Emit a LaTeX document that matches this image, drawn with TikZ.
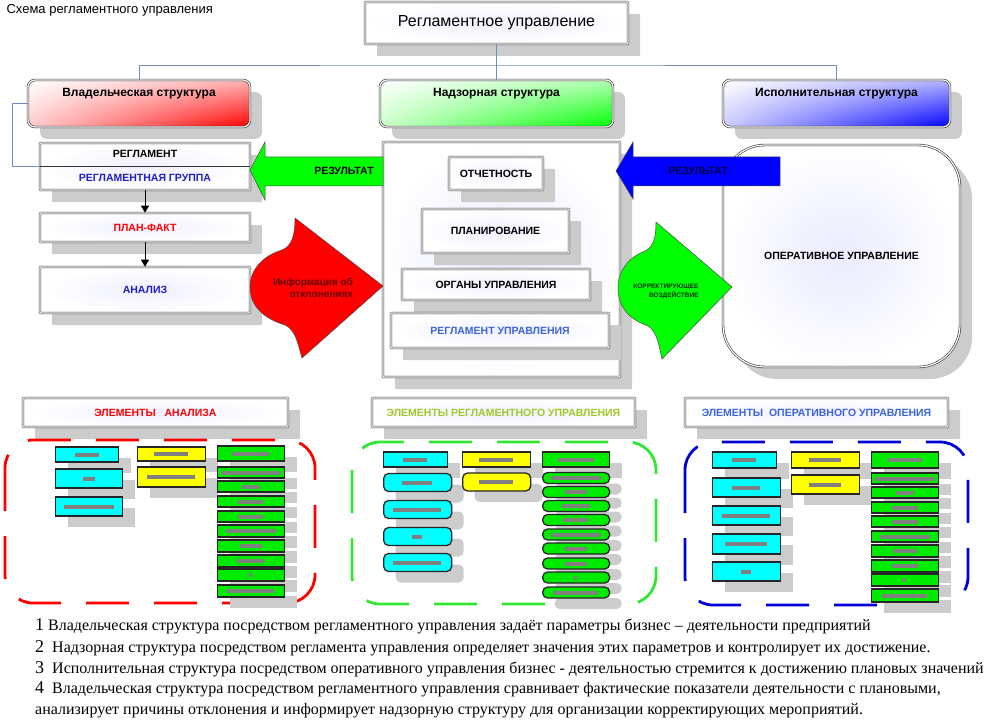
\documentclass[tikz,border=0pt]{standalone}
\usepackage{fontspec}
\setmainfont{Liberation Sans}
\newfontfamily\notefont{Liberation Serif}
\usetikzlibrary{shadows,shadings,patterns,arrows.meta}
\definecolor{linkblue}{RGB}{110,140,190}
\definecolor{txtblue}{RGB}{30,30,200}
\definecolor{lightblue}{RGB}{60,100,220}
\definecolor{olivegreen}{RGB}{160,200,40}
\definecolor{deepred}{RGB}{100,0,0}
\definecolor{elcyan}{RGB}{0,255,255}
\definecolor{elyellow}{RGB}{255,255,0}
\definecolor{elgreen}{RGB}{0,235,0}
\definecolor{zonegreen}{RGB}{50,230,50}

\begin{document}
\begin{tikzpicture}[x=1pt,y=-1pt]
        \tikzset{shdw/.style={general shadow={fill=black!20,shadow xshift=12pt,shadow yshift=-12pt}},
            frame/.style={draw=black!80,double=white,double distance=1.2pt,line width=.6pt},
            box/.style={frame,shdw,rounded corners=.8pt,inner color=blue!6,outer color=white,inner sep=0pt,
                font=\bfseries\fontsize{10.5}{12}\selectfont},
            head/.style={frame,shdw,rounded corners=7pt,minimum width=#1,minimum height=47pt,
                inner sep=0pt,text height=9pt,text depth=22pt,font=\bfseries\fontsize{12}{14}\selectfont},
            link/.style={draw=linkblue,line width=.7pt},
            down/.style={-{Triangle[length=7pt,width=8pt]},line width=1pt},
            elem/.style={draw=black!85,line width=1.3pt,inner sep=0pt,
                general shadow={fill=black!20,shadow xshift=12pt,shadow yshift=-11pt}},
            pill/.style={elem,rounded corners=5pt},
            hatch/.style={fill=black!50,minimum height=4pt,inner sep=0pt},
            zone/.style={line width=2.8pt,rounded corners=28pt,dash pattern=on 43pt off 25pt},
            lbl/.style={font=\bfseries\fontsize{10.5}{12}\selectfont}}
        \useasboundingbox (0,0) rectangle (987,722);

        % top level
        \node[anchor=west,font=\fontsize{13}{15}\selectfont] (title) at (3,10) {Схема регламентного управления};
        \node[box,minimum width=263pt,minimum height=42pt,font=\fontsize{16}{18}\selectfont] (main) at (496.5,23) {Регламентное управление};
        \node[head=222pt,upper left=white,upper right=red!30,lower left=red!20,lower right=red] (owner) at (139,103.5) {Владельческая структура};
        \node[head=233pt,upper left=white,upper right=green!30,lower left=green!20,lower right=green] (superv) at (496.5,103.5) {Надзорная структура};
        \node[head=227pt,upper left=white,upper right=blue!30,lower left=blue!20,lower right=blue] (exec) at (836.5,103.5) {Исполнительная структура};
        \coordinate (bus) at (496.5,65);
        \draw[link] (main.south) -- (superv.north);
        \draw[link] (owner.north) |- (bus) -| (exec.north);

        % owner column
        \node[box,minimum width=210pt,minimum height=47pt] (reg) at (145,166.5) {};
        \draw[black!80] (reg.west) -- (reg.east);
        \node[lbl] (regname) at (145,154) {РЕГЛАМЕНТ};
        \node[lbl,text=txtblue] (reggroup) at (145,178) {РЕГЛАМЕНТНАЯ ГРУППА};
        \draw[link] (owner.west) -- ++(-15,0) |- (reg.west);
        \node[box,minimum width=210pt,minimum height=29pt,text=red] (plan) at (145,227.5) {ПЛАН-ФАКТ};
        \node[box,minimum width=210pt,minimum height=46pt,text=txtblue] (anal) at (145,290) {АНАЛИЗ};
        \draw[down] (reg.south) -- (plan.north);
        \draw[down] (plan.south) -- (anal.north);

        % supervisory block
        \node[box,inner color=blue!9,minimum width=237pt,minimum height=235pt] (superbox) at (501.5,259.5) {};
        \node[box,minimum width=94pt,minimum height=33pt] (report) at (496,173.5) {ОТЧЕТНОСТЬ};
        \node[box,minimum width=147pt,minimum height=44pt] (planning) at (495.5,231) {ПЛАНИРОВАНИЕ};
        \node[box,minimum width=188pt,minimum height=31pt] (organs) at (496,284.5) {ОРГАНЫ УПРАВЛЕНИЯ};
        \node[box,minimum width=218pt,minimum height=35pt,text=lightblue] (regctl) at (500,330.5) {РЕГЛАМЕНТ УПРАВЛЕНИЯ};

        % arrows
        \filldraw[fill=green,draw=black!70,line width=.5pt] (250,170) -- (265,142) -- (265,157) -- (383,157)
            -- (383,186) -- (265,186) -- (265,200) -- cycle;
        \node[lbl] (res1) at (344,171) {РЕЗУЛЬТАТ};
        \filldraw[fill=red,draw=black!70,line width=.5pt] (295,218) -- (383,286) -- (302,358)
            .. controls (298,345) and (296,330) .. (285,325) .. controls (262,318) and (250,305) .. (250,287)
            .. controls (250,268) and (265,255) .. (282,250) .. controls (292,246) and (295,235) .. (295,218) -- cycle;
        \node[font=\bfseries\fontsize{10}{12}\selectfont,text=deepred,align=right] (info) at (313,288) {Информация об\\отклонениях};
        \node[frame,shdw,rounded corners=42pt,inner color=blue!8,outer color=white,minimum width=237pt,
            minimum height=222pt,lbl] (oper) at (841.5,256) {ОПЕРАТИВНОЕ УПРАВЛЕНИЕ};
        \filldraw[fill=blue,draw=black!70,line width=.5pt] (616,171) -- (633,142) -- (633,157) -- (780,157)
            -- (780,186) -- (633,186) -- (633,199) -- cycle;
        \node[lbl,text=black!75!blue] (res2) at (698,171) {РЕЗУЛЬТАТ};
        \filldraw[fill=green,draw=black!70,line width=.5pt] (656,222) -- (732,287) -- (662,359)
            .. controls (659,346) and (657,331) .. (648,326) .. controls (628,319) and (618,306) .. (618,288)
            .. controls (618,269) and (631,256) .. (645,251) .. controls (654,247) and (656,236) .. (656,222) -- cycle;
        \node[font=\bfseries\fontsize{6.5}{9}\selectfont,text=black!80!green,align=right] (corr) at (666,291) {КОРРЕКТИРУЮЩЕЕ\\ВОЗДЕЙСТВИЕ};

        % element groups
        \node[box,minimum width=265pt,minimum height=29pt,text=red] (elan) at (155.5,412.5) {ЭЛЕМЕНТЫ \ \ АНАЛИЗА};
        \node[box,minimum width=263pt,minimum height=29pt,text=olivegreen] (elreg) at (503.5,412.5) {ЭЛЕМЕНТЫ РЕГЛАМЕНТНОГО УПРАВЛЕНИЯ};
        \node[box,minimum width=263pt,minimum height=29pt,text=lightblue] (elop) at (816.5,412.5) {ЭЛЕМЕНТЫ \ ОПЕРАТИВНОГО УПРАВЛЕНИЯ};
        \draw[zone,draw=red] (5,440) rectangle (315,603);
        \draw[zone,draw=zonegreen] (352,442) rectangle (656,604);
        \draw[zone,draw=blue!85!black] (685,442) rectangle (968,605);

        \foreach \y/\w/\h/\hw [count=\i] in {454.5/63/15/24,478.5/67/19/12,506.5/67/19/50}{
            \node[elem,fill=elcyan,anchor=west,minimum width=\w pt,minimum height=\h pt] (ac\i) at (55,\y) {};
            \node[hatch,minimum width=\hw pt] (ach\i) at ({55+\w/2},\y) {};}
        \foreach \y/\h/\hw [count=\i] in {454/14/34,477/20/48}{
            \node[elem,fill=elyellow,anchor=west,minimum width=68pt,minimum height=\h pt] (ay\i) at (137,\y) {};
            \node[hatch,minimum width=\hw pt] (ayh\i) at (171,\y) {};}
        \foreach \y/\h/\hw [count=\i] in {453.5/15/37,472.5/11/60,486.5/11/18,501.5/11/25,516.5/11/25,
                531/12/50,546/12/22,561/12/27,575/12/3,591/12/47}{
            \node[elem,fill=elgreen,anchor=west,minimum width=67pt,minimum height=\h pt] (ag\i) at (217,\y) {};
            \node[hatch,minimum width=\hw pt] (agh\i) at (250.5,\y) {};}

        \foreach \y/\w/\h/\hw/\s [count=\i] in {459.5/64/15/24/elem,482.5/68/18/30/pill,509.5/68/18/48/pill,
                536.5/68/18/10/pill,562.5/68/18/48/pill}{
            \node[\s,fill=elcyan,anchor=west,minimum width=\w pt,minimum height=\h pt] (rc\i) at (383,\y) {};
            \node[hatch,minimum width=\hw pt] (rch\i) at ({383+\w/2},\y) {};}
        \foreach \y/\h/\hw/\s [count=\i] in {459.5/15/34/elem,482/18/34/pill}{
            \node[\s,fill=elyellow,anchor=west,minimum width=68pt,minimum height=\h pt] (ry\i) at (462,\y) {};
            \node[hatch,minimum width=\hw pt] (ryh\i) at (496,\y) {};}
        \foreach \y/\h/\hw/\s [count=\i] in {459.5/15/36/elem,478/11/50/pill,492/11/22/pill,506/11/28/pill,
                520/11/25/pill,534.5/11/50/pill,548.5/11/22/pill,563.5/11/22/pill,577.5/11/3/pill,592.5/11/45/pill}{
            \node[\s,fill=elgreen,anchor=west,minimum width=67pt,minimum height=\h pt] (rg\i) at (542,\y) {};
            \node[hatch,minimum width=\hw pt] (rgh\i) at (575.5,\y) {};}

        \foreach \y/\w/\h/\hw [count=\i] in {460/64/16/24,487.5/68/19/28,515.5/68/19/48,544/68/20/42,571.5/68/19/10}{
            \node[elem,fill=elcyan,anchor=west,minimum width=\w pt,minimum height=\h pt] (oc\i) at (712,\y) {};
            \node[hatch,minimum width=\hw pt] (och\i) at ({712+\w/2},\y) {};}
        \foreach \y/\h/\hw [count=\i] in {460/16/32,484.5/19/32}{
            \node[elem,fill=elyellow,anchor=west,minimum width=68pt,minimum height=\h pt] (oy\i) at (791,\y) {};
            \node[hatch,minimum width=\hw pt] (oyh\i) at (825,\y) {};}
        \foreach \y/\h/\hw [count=\i] in {460/16/34,478.5/11/60,492.5/11/18,507.5/11/26,521.5/11/26,
                536.5/11/50,551/12/24,566/12/26,580/12/3,595.5/13/45}{
            \node[elem,fill=elgreen,anchor=west,minimum width=67pt,minimum height=\h pt] (og\i) at (871,\y) {};
            \node[hatch,minimum width=\hw pt] (ogh\i) at (904.5,\y) {};}

        % notes
        \tikzset{note/.style={anchor=west,font=\notefont\fontsize{16}{21.5}\selectfont,align=left,inner sep=0pt}}
        \node[note] (note1) at (35,626) {{\fontsize{18}{18}\selectfont 1} Владельческая структура посредством регламентного управления задаёт параметры бизнес – деятельности предприятий};
        \node[note] (note2) at (35,648) {{\fontsize{18}{18}\selectfont 2}\ \ Надзорная структура посредством регламента управления определяет значения этих параметров и контролирует их достижение.};
        \node[note] (note3) at (35,669) {{\fontsize{18}{18}\selectfont 3}\ \ Исполнительная структура посредством оперативного управления бизнес - деятельностью стремится к достижению плановых значений};
        \node[note,anchor=north west] (note4) at (35,681) {{\fontsize{18}{18}\selectfont 4}\ \ Владельческая структура посредством регламентного управления сравнивает фактические показатели деятельности с плановыми,\\анализирует причины отклонения и информирует надзорную структуру для организации корректирующих мероприятий.};
    \end{tikzpicture}
\end{document}
